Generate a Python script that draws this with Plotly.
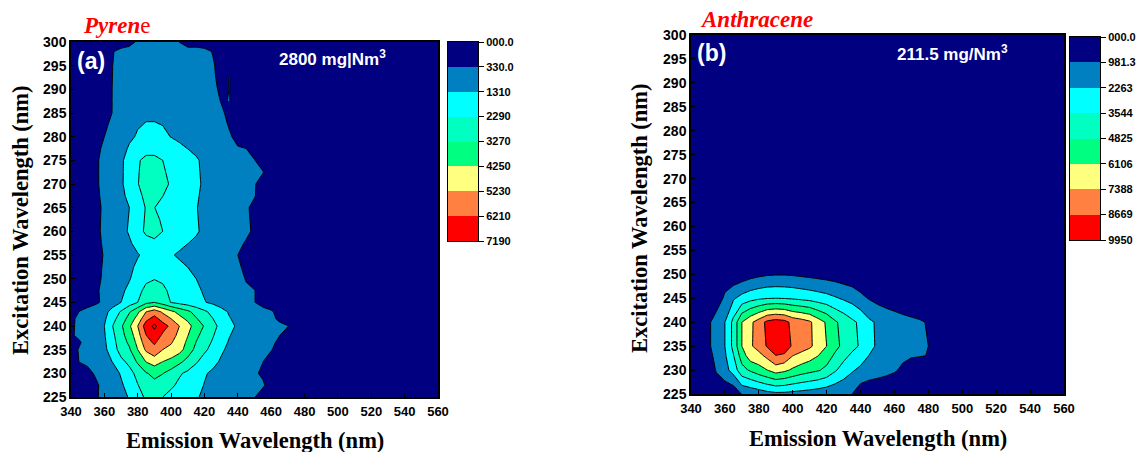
import plotly.graph_objects as go

W, H = 1140, 452

emission = [340,345,350,355,360,365,370,375,380,385,390,395,400,405,410,415,420,425,430,435,440,445,450,455,460,465,470,475,480,490,560]

pyrene_excitation = [225,227.5,230,232.5,235,236.5,238,240,241.5,243,245,247.5,250,252.5,255,257.5,260,262.5,265,267.5,270,272.5,275,277.5,280,282.5,285,287.5,290,292.5,295,298,300]
pyrene_rows = [
 [0,0,0,250,550,750,950,1400,1900,2450,2550,2290,2000,1800,1600,1400,1150,950,800,650,550,450,350,100],
 [0,0,0,200,600,825,1175,1675,2250,2825,3025,2795,2450,2100,1850,1600,1275,1050,875,725,600,500,375,400,100],
 [0,0,100,450,650,900,1400,1950,2600,3200,3500,3300,2900,2400,2100,1800,1400,1150,950,800,650,550,400,250],
 [0,350,500,650,875,1350,2050,2550,3425,4300,4700,4265,3950,3500,2950,2400,1925,1575,1200,950,775,650,500,340,100],
 [0,400,600,850,1100,1800,2700,3150,4250,5400,5900,5230,5000,4600,3800,3000,2450,2000,1450,1100,900,750,600,500,360,100],
 [125,250,630,895,1163,1947,2820,3435,4544,5790,6350,5640,5300,4789,4040,3240,2675,2180,1615,1220,990,825,675,560,440,220,50],
 [250,460,660,940,1226,2094,2940,3720,4838,6180,6800,6050,5600,4978,4280,3480,2900,2360,1780,1340,1080,900,750,620,520,340,100],
 [200,500,700,1000,1310,2290,3100,4100,5230,6700,7400,6600,6000,5230,4600,3800,3200,2600,2000,1500,1200,1000,850,700,600,500,350,100],
 [250,420,650,900,1150,2000,2740,3640,4640,5960,6570,5840,5250,4580,4040,3360,2830,2310,1790,1360,1090,900,750,650,500,200],
 [0,350,600,800,986,1714,2384,3180,4054,5220,5740,5080,4500,3938,3480,2920,2460,2020,1580,1220,980,800,650,600,400,150],
 [0,0,0,200,500,850,1310,1800,2290,3000,3250,2800,2250,2000,1800,1600,1350,1150,950,800,650,500,350,50],
 [0,0,0,250,475,775,1130,1525,1995,2550,2750,2475,2100,1875,1675,1455,1225,1050,875,725,575,400,350,60],
 [0,0,0,150,450,700,950,1250,1700,2100,2250,2150,1950,1750,1550,1310,1100,950,800,650,500,300,50],
 [0,0,0,125,415,650,875,1125,1475,1800,1925,1825,1665,1475,1300,1130,975,850,725,575,415,200,25],
 [0,0,0,100,380,600,800,1000,1250,1500,1600,1500,1380,1200,1050,950,850,750,650,500,330,100],
 [0,0,0,125,440,675,925,1200,1600,1975,2100,1895,1715,1500,1325,1175,1000,875,750,600,465,275,340,100],
 [0,0,0,150,500,750,1050,1400,1950,2450,2600,2290,2050,1800,1600,1400,1150,1000,850,700,600,450,230],
 [0,0,0,150,475,725,1025,1355,1875,2400,2450,2195,2000,1775,1575,1375,1125,975,825,675,575,425,215],
 [0,0,0,150,450,700,1000,1310,1800,2350,2300,2100,1950,1750,1550,1350,1100,950,800,650,550,400,200],
 [0,0,0,175,525,775,1075,1555,2025,2525,2525,2300,2075,1825,1625,1400,1150,1000,850,700,600,475,360,100],
 [0,0,0,200,600,850,1150,1800,2250,2700,2750,2500,2200,1900,1700,1450,1200,1050,900,750,650,550,380,80],
 [0,0,0,200,600,850,1150,1750,2225,2600,2625,2395,2100,1850,1650,1425,1175,1025,875,725,625,525,365,360],
 [0,0,0,200,600,850,1150,1700,2200,2500,2500,2290,2000,1800,1600,1400,1150,1000,850,700,600,500,350,50],
 [0,0,0,150,465,725,975,1425,1800,2000,2000,1870,1645,1475,1300,1150,975,850,725,550,375,330,100],
 [0,0,0,100,330,600,800,1150,1400,1500,1500,1450,1290,1150,1000,900,800,700,600,400,150],
 [0,0,0,50,215,475,800,1075,1250,1350,1350,1300,1220,1100,1000,900,800,700,525,275,75],
 [0,0,0,0,100,350,800,1000,1100,1200,1200,1150,1150,1050,1000,900,800,700,450,150],
 [0,0,0,0,75,350,750,900,975,1025,1025,1000,1000,950,925,850,750,600,300,340],
 [0,0,0,0,50,350,700,800,850,850,850,850,850,850,850,800,700,500,200,340],
 [0,0,0,0,25,340,650,750,800,825,825,825,825,825,825,775,700,450,100,350],
 [0,0,0,0,0,330,600,700,750,800,800,800,800,800,800,750,700,400,100,100],
 [0,0,0,0,0,300,500,600,600,650,650,650,650,650,600,600,500,300],
 [0,0,0,0,0,0,0,100,450,600,600,600,550,320],
]

anthracene_excitation = [225,230,233,235,240,245,250,255,300]
anthracene_rows = [
 [0,0,0,0,0,0,1050,1250,1500,1800,1950,1950,1850,1750,1650,1500,1350,1200,1100,981,200],
 [0,0,0,1100,1800,2800,4400,5000,5600,6106,6700,6400,5900,5500,5200,4950,4500,3700,3000,2400,2000,1700,1500,1300,1100,800,300],
 [0,0,300,1520,2080,3460,5424,6800,6980,7722,8620,8380,7400,7000,6640,6120,5464,4600,3900,3300,2840,2240,1860,1600,1400,1160,1100,1050,950],
 [0,0,600,1800,2263,3900,6106,7200,7900,8800,9900,9700,8400,8000,7600,6900,6106,5200,4500,3900,3400,2600,2100,1800,1600,1400,1250,1100,981],
 [0,0,600,1800,2263,3900,6106,7100,8000,9000,9300,9100,8300,8000,7600,6700,5950,5000,4400,3800,3300,2500,2100,1800,1600,1400,1250,1100,900],
 [0,0,0,0,1300,2100,2700,3100,3350,3500,3544,3500,3400,3250,3100,2900,2700,2400,2100,1800,1300,900,600,400,250,100],
 [0,0,0,0,0,0,200,500,700,850,900,900,850,750,650,550,450,350,200,100],
 [0],
 [0],
]

band_colors = ["#000080","#0080C0","#00FFFF","#00FFC0","#00FF80","#FFFF80","#FF8040","#FF0000"]
pyrene_levels = ["000.0","330.0","1310","2290","3270","4250","5230","6210","7190"]
anthracene_levels = ["000.0","981.3","2263","3544","4825","6106","7388","8669","9950"]
x_ticks = [340,360,380,400,420,440,460,480,500,520,540,560]
y_ticks = [225,230,235,240,245,250,255,260,265,270,275,280,285,290,295,300]

PANELS = [
    dict(x0=71, x1=438, y0=42, y1=397, cx0=448, cx1=478, cy0=42, cy1=241),
    dict(x0=691, x1=1064, y0=35, y1=394, cx0=1070, cx1=1100, cy0=37, cy1=240),
]


def fx(px):
    return px / W


def fy(py):
    return 1 - py / H


def pad(rows):
    return [r + [0] * (len(emission) - len(r)) for r in rows]


fill_stops = band_colors + ["#FF0000"]
contour_scale = [[i / (len(fill_stops) - 1), c] for i, c in enumerate(fill_stops)]
n = len(band_colors)
bar_scale = []
for i, c in enumerate(band_colors):
    bar_scale += [[i / n, c], [(i + 1) / n, c]]

fig = go.Figure()
fig.add_trace(go.Contour(
    x=emission, y=pyrene_excitation, z=pad(pyrene_rows), xaxis="x", yaxis="y",
    colorscale=contour_scale, showscale=False, autocontour=False,
    contours=dict(coloring="fill", start=330, end=7190, size=980),
    line=dict(color="black", width=1, smoothing=0), hoverinfo="skip"))
fig.add_trace(go.Contour(
    x=emission, y=anthracene_excitation, z=pad(anthracene_rows), xaxis="x2", yaxis="y2",
    colorscale=contour_scale, showscale=False, autocontour=False,
    contours=dict(coloring="fill", start=981.3, end=9950, size=1281),
    line=dict(color="black", width=1, smoothing=0), hoverinfo="skip"))

for axn in ("3", "4"):
    fig.add_trace(go.Heatmap(
        x=[0, 1], y=list(range(len(band_colors) + 1)),
        z=[[i] for i in range(len(band_colors))],
        xaxis="x" + axn, yaxis="y" + axn, colorscale=bar_scale, zmin=-0.5,
        zmax=len(band_colors) - 0.5, showscale=False, hoverinfo="skip"))

tickfont = dict(family="Liberation Sans", size=13, color="black", weight=700)
layout = dict(
    template="none",
    width=W, height=H, margin=dict(l=0, r=0, t=0, b=0), autosize=False,
    paper_bgcolor="white", plot_bgcolor="white", showlegend=False,
)
for i, p in enumerate(PANELS):
    a = "" if i == 0 else "2"
    layout["xaxis" + a] = dict(
        domain=[fx(p["x0"]), fx(p["x1"])], range=[340, 560], tickvals=x_ticks,
        ticks="inside", ticklen=4, tickcolor="black", showgrid=False, zeroline=False,
        showline=True, mirror=True, linecolor="black", linewidth=1.5, automargin=False,
        tickfont=tickfont, anchor="y" + a, ticklabelstandoff=2)
    layout["yaxis" + a] = dict(
        domain=[fy(p["y1"]), fy(p["y0"])], range=[225, 300], tickvals=y_ticks,
        ticks="inside", ticklen=4, tickcolor="black", showgrid=False, zeroline=False,
        showline=True, mirror=True, linecolor="black", linewidth=1.5, automargin=False,
        tickfont=dict(tickfont, size=14), anchor="x" + a)
    b = str(i + 3)
    layout["xaxis" + b] = dict(
        domain=[fx(p["cx0"]), fx(p["cx1"])], range=[0, 1], showticklabels=False,
        ticks="", showgrid=False, zeroline=False, showline=True, mirror=True, automargin=False,
        linecolor="black", linewidth=1, anchor="y" + b)
    layout["yaxis" + b] = dict(
        domain=[fy(p["cy1"]), fy(p["cy0"])], range=[8, 0],
        tickvals=list(range(9)),
        ticktext=pyrene_levels if i == 0 else anthracene_levels,
        side="right", ticks="outside", ticklen=5, tickcolor="black", automargin=False,
        showgrid=False, zeroline=False, showline=True, mirror=True, linecolor="black",
        linewidth=1, tickfont=dict(tickfont, size=11), anchor="x" + b)


def note(px, py, text, size, color="black", family="Liberation Serif", angle=0, anchor="center"):
    return dict(x=fx(px), y=fy(py), xref="paper", yref="paper", text=text, showarrow=False,
                font=dict(family=family, size=size, color=color), textangle=angle,
                xanchor=anchor, yanchor="middle", align="center")


layout["annotations"] = [
    note(255, 440, "<b>Emission Wavelength (nm)</b>", 22.5),
    note(878, 438, "<b>Emission Wavelength (nm)</b>", 22.5),
    note(20, 220, "<b>Excitation Wavelength (nm)</b>", 22.5, angle=-90),
    note(639, 218, "<b>Excitation Wavelength (nm)</b>", 22.5, angle=-90),
    note(81, 25, "<b><i>Pyren</i></b>e", 23, color="#FF0000", anchor="left"),
    note(698, 20, "<b><i>Anthracene</i></b>", 23, color="#FF0000", anchor="left"),
    note(91, 61, "<b>(a)</b>", 23, color="white", family="Liberation Sans"),
    note(711, 53, "<b>(b)</b>", 23, color="white", family="Liberation Sans"),
    note(332, 58, "<b>2800 mg|Nm<sup>3</sup></b>", 17, color="white", family="Liberation Sans"),
    note(952, 53, "<b>211.5 mg/Nm<sup>3</sup></b>", 17, color="white", family="Liberation Sans"),
]
fig.update_layout(**layout)
fig.write_html("out.html", config=dict(displayModeBar=False),
               post_script="document.body.style.margin='0';")
